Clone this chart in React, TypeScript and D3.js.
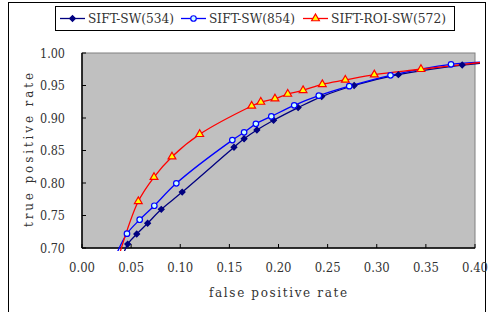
import React, { useRef, useEffect } from 'react';
import * as d3 from 'd3';

// false positive rate / true positive rate
const sw534X = [0.040, 0.0465, 0.0557, 0.0668, 0.0807, 0.102, 0.1547, 0.165, 0.178, 0.195, 0.220, 0.244, 0.277, 0.322, 0.387, 0.42];
const sw534Y = [0.680, 0.706, 0.7215, 0.738, 0.7595, 0.786, 0.855, 0.868, 0.8815, 0.8965, 0.916, 0.933, 0.950, 0.9667, 0.9815, 0.986];
const sw854X = [0.032, 0.0458, 0.0587, 0.0736, 0.096, 0.153, 0.165, 0.177, 0.1927, 0.216, 0.241, 0.272, 0.314, 0.3756, 0.42];
const sw854Y = [0.680, 0.722, 0.7435, 0.765, 0.7995, 0.866, 0.878, 0.891, 0.9025, 0.9195, 0.9343, 0.949, 0.9657, 0.9826, 0.987];
const roiX = [0.036, 0.0573, 0.0733, 0.0916, 0.1198, 0.1727, 0.182, 0.1964, 0.2094, 0.225, 0.2446, 0.268, 0.2975, 0.345, 0.42];
const roiY = [0.680, 0.7718, 0.809, 0.8405, 0.875, 0.9185, 0.9246, 0.9297, 0.9369, 0.9426, 0.9518, 0.9585, 0.9667, 0.975, 0.988];

const xTicks = [0, 0.05, 0.1, 0.15, 0.2, 0.25, 0.3, 0.35, 0.4];
const yTicks = [0.7, 0.75, 0.8, 0.85, 0.9, 0.95, 1.0];

const seriesNames = ['SIFT-SW(534)', 'SIFT-SW(854)', 'SIFT-ROI-SW(572)'];

const FONT = '"DejaVu Serif", serif';
const TXT = '#333';

const Chart = () => {
  const svgRef = useRef<SVGSVGElement>(null);

  useEffect(() => {
    const svg = d3.select(svgRef.current);
    svg.selectAll('*').remove();

    const left = 82, right = 475, top = 53, bottom = 248;

    const x = d3.scaleLinear().domain([0, 0.4]).range([left, right]);
    const y = d3.scaleLinear().domain([0.7, 1.0]).range([bottom, top]);

    // outer frame
    svg.append('rect')
      .attr('x', 8.5).attr('y', 2.5).attr('width', 477).attr('height', 320)
      .attr('fill', 'white').attr('stroke', 'black').attr('stroke-width', 1);

    // plot area
    svg.append('rect')
      .attr('x', left).attr('y', top).attr('width', right - left).attr('height', bottom - top)
      .attr('fill', '#c0c0c0').attr('stroke', '#808080').attr('stroke-width', 1);

    // axes lines
    svg.append('line').attr('x1', left).attr('x2', right).attr('y1', bottom).attr('y2', bottom)
      .attr('stroke', 'black').attr('stroke-width', 1.5);
    svg.append('line').attr('x1', left).attr('x2', left).attr('y1', top).attr('y2', bottom)
      .attr('stroke', 'black').attr('stroke-width', 1.5);

    // ticks (inside)
    svg.selectAll('.xt').data(xTicks).enter().append('line')
      .attr('x1', (d) => x(d)).attr('x2', (d) => x(d))
      .attr('y1', bottom).attr('y2', bottom - 4)
      .attr('stroke', 'black');
    svg.selectAll('.yt').data(yTicks).enter().append('line')
      .attr('x1', left).attr('x2', left + 4)
      .attr('y1', (d) => y(d)).attr('y2', (d) => y(d))
      .attr('stroke', 'black');

    // tick labels
    svg.selectAll('.xl').data(xTicks).enter().append('text')
      .attr('x', (d) => x(d) - 13).attr('y', bottom + 24)
      .attr('textLength', 26).attr('lengthAdjust', 'spacingAndGlyphs')
      .style('font-family', FONT).style('font-size', '12px').attr('fill', TXT)
      .text((d) => d3.format('.2f')(d));
    svg.selectAll('.yl').data(yTicks).enter().append('text')
      .attr('x', 40).attr('y', (d) => y(d) + 4.5)
      .attr('textLength', 25).attr('lengthAdjust', 'spacingAndGlyphs')
      .style('font-family', FONT).style('font-size', '12px').attr('fill', TXT)
      .text((d) => d3.format('.2f')(d));

    // axis titles
    svg.append('text')
      .attr('x', 209).attr('y', 297)
      .attr('textLength', 138).attr('lengthAdjust', 'spacing')
      .style('font-family', FONT).style('font-size', '12px').attr('fill', TXT)
      .text('false positive rate');
    svg.append('text')
      .attr('transform', 'translate(33,227) rotate(-90)')
      .attr('textLength', 154).attr('lengthAdjust', 'spacing')
      .style('font-family', FONT).style('font-size', '12px').attr('fill', TXT)
      .text('true positive rate');

    // series
    const series = [
      { xs: sw534X, ys: sw534Y, color: '#000080', fill: '#000080', stroke: '#000080', shape: d3.symbolSquare, size: 16, rot: 45 },
      { xs: sw854X, ys: sw854Y, color: '#0000ff', fill: '#ccffff', stroke: '#0000ff', shape: d3.symbolCircle, size: 24, rot: 0 },
      { xs: roiX, ys: roiY, color: '#ff0000', fill: '#ffff00', stroke: '#ff0000', shape: d3.symbolTriangle, size: 26, rot: 0 },
    ];

    svg.append('clipPath').attr('id', 'plotclip')
      .append('rect').attr('x', left - 2).attr('y', top - 5).attr('width', right - left + 7).attr('height', bottom - top + 8);

    const line = d3.line<[number, number]>()
      .x((d) => x(d[0])).y((d) => y(d[1]))
      .curve(d3.curveCatmullRom.alpha(0.5));

    series.forEach((s) => {
      const pts = s.xs.map((v, i) => [v, s.ys[i]] as [number, number]);
      svg.append('path')
        .datum(pts)
        .attr('clip-path', 'url(#plotclip)')
        .attr('fill', 'none').attr('stroke', s.color).attr('stroke-width', 1.3)
        .attr('d', line);
    });

    series.forEach((s) => {
      const pts = s.xs.map((v, i) => [v, s.ys[i]] as [number, number])
        .filter((p) => p[0] >= 0 && p[0] <= 0.4 && p[1] >= 0.7 && p[1] <= 1);
      svg.selectAll(null).data(pts).enter().append('path')
        .attr('transform', (d) => `translate(${x(d[0])},${y(d[1])}) rotate(${s.rot})`)
        .attr('d', d3.symbol().type(s.shape).size(s.size)())
        .attr('fill', s.fill).attr('stroke', s.stroke).attr('stroke-width', 1.2);
    });

    // legend
    const lg = svg.append('g');
    lg.append('rect').attr('x', 55.5).attr('y', 6.5).attr('width', 399).attr('height', 24)
      .attr('fill', 'white').attr('stroke', 'black').attr('stroke-width', 1);
    const itemX = [60, 181, 303];
    const textW = [86, 86, 115];
    series.forEach((s, i) => {
      const x0 = itemX[i];
      lg.append('line').attr('x1', x0).attr('x2', x0 + 25).attr('y1', 18.5).attr('y2', 18.5)
        .attr('stroke', s.color).attr('stroke-width', 1.3);
      lg.append('path')
        .attr('transform', `translate(${x0 + 12.5},18.5) rotate(${s.rot})`)
        .attr('d', d3.symbol().type(s.shape).size(s.size)())
        .attr('fill', s.fill).attr('stroke', s.stroke).attr('stroke-width', 1.2);
      lg.append('text').attr('x', x0 + 28).attr('y', 23)
        .attr('textLength', textW[i]).attr('lengthAdjust', 'spacingAndGlyphs')
        .style('font-family', FONT).style('font-size', '12px').attr('fill', TXT)
        .text(seriesNames[i]);
    });
  }, []);

  return <svg ref={svgRef} width={491} height={312} style={{ display: 'block' }}></svg>;
};

export default function App() {
  return (
    <div style={{ position: 'absolute', left: 0, top: 0 }}>
      <Chart />
    </div>
  );
}
